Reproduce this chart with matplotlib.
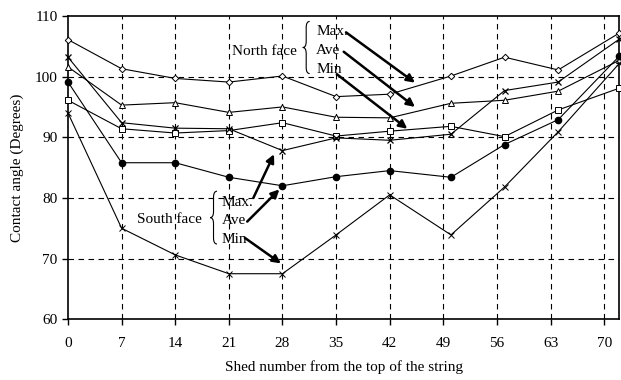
import matplotlib
matplotlib.use('Agg')
import matplotlib.pyplot as plt
from matplotlib.path import Path
from matplotlib.patches import PathPatch

plt.rcParams['font.family'] = ['Liberation Serif', 'DejaVu Serif']

# Shed positions (data points) and tick labels
shed = [0, 7, 14, 21, 28, 35, 42, 50, 57, 64, 72]
xticks = [0, 7, 14, 21, 28, 35, 42, 49, 56, 63, 70]
yticks = [60, 70, 80, 90, 100, 110]

# North face
north_max = [106.1, 101.3, 99.7, 99.1, 100.1, 96.7, 97.1, 100.1, 103.2, 101.1, 107.2]
north_ave = [101.6, 95.3, 95.7, 94.1, 95.0, 93.3, 93.2, 95.6, 96.1, 97.6, 102.7]
north_min = [96.1, 91.4, 90.7, 91.1, 92.4, 90.2, 91.0, 91.8, 90.1, 94.5, 98.1]

# South face
south_max = [103.2, 92.4, 91.5, 91.4, 87.8, 89.9, 89.5, 90.5, 97.7, 99.1, 106.2]
south_ave = [99.1, 85.8, 85.8, 83.4, 82.0, 83.5, 84.5, 83.4, 88.8, 92.9, 103.4]
south_min = [94.0, 75.0, 70.6, 67.5, 67.5, 73.9, 80.5, 73.9, 81.8, 90.9, 102.2]

fig = plt.figure(figsize=(6.21, 3.8), dpi=100)
ax = fig.add_axes([0.1095, 0.16, 0.888, 0.798])

line_kw = dict(color='black', lw=0.8, clip_on=False, zorder=3)
ax.plot(shed, north_max, marker='D', ms=3.3, mfc='white', mec='black', mew=0.7, **line_kw)
ax.plot(shed, north_ave, marker='^', ms=5, mfc='white', mec='black', mew=0.7, **line_kw)
ax.plot(shed, north_min, marker='s', ms=4.5, mfc='white', mec='black', mew=0.7, **line_kw)
ax.plot(shed, south_max, marker='x', ms=5, mec='black', mew=0.9, **line_kw)
ax.plot(shed, south_ave, marker='o', ms=4.5, mfc='black', mec='black', **line_kw)
ax.plot(shed, south_min, marker='x', ms=5, mec='black', mew=0.7, **line_kw)

ax.set_xlim(0, 72)
ax.set_ylim(60, 110)
ax.set_xticks(xticks)
ax.set_yticks(yticks)

# dashed grid
for xv in xticks[1:]:
    ax.axvline(xv, color='black', lw=0.8, ls=(0, (5, 4)), zorder=1)
for yv in yticks[1:-1]:
    ax.axhline(yv, color='black', lw=0.8, ls=(0, (5, 4)), zorder=1)

for s in ax.spines.values():
    s.set_linewidth(1.2)
ax.tick_params(direction='out', length=4, width=1, labelsize=11)
ax.tick_params(axis='x', pad=9)
ax.set_xlabel('Shed number from the top of the string', fontsize=11, labelpad=7)
ax.set_ylabel('Contact angle (Degrees)', fontsize=11, labelpad=8)


def brace(x, y0, y1, w, d):
    ym = (y0 + y1) / 2
    verts = [(x + w, y1), (x, y1), (x, y1 - d),
             (x, ym + d), (x, ym), (x - w, ym),
             (x, ym), (x, ym - d),
             (x, y0 + d), (x, y0), (x + w, y0)]
    codes = [Path.MOVETO, Path.CURVE3, Path.CURVE3,
             Path.LINETO, Path.CURVE3, Path.CURVE3,
             Path.CURVE3, Path.CURVE3,
             Path.LINETO, Path.CURVE3, Path.CURVE3]
    ax.add_patch(PathPatch(Path(verts, codes), fill=False, lw=0.8,
                           edgecolor='black', zorder=4, clip_on=False))


def arrow(start, end):
    ax.annotate('', xy=end, xytext=start,
                arrowprops=dict(arrowstyle='-|>', lw=1.8, color='black',
                                mutation_scale=12, shrinkA=0, shrinkB=0),
                zorder=5)


# North face annotation
ax.text(29.9, 104.1, 'North face', fontsize=11, ha='right', va='center')
brace(31.1, 100.5, 109.1, 0.45, 1.0)
ax.text(32.4, 107.4, 'Max.', fontsize=11, ha='left', va='center')
ax.text(32.4, 104.3, 'Ave', fontsize=11, ha='left', va='center')
ax.text(32.4, 101.1, 'Min', fontsize=11, ha='left', va='center')
arrow((36.3, 107.3), (45.3, 99.0))
arrow((36.0, 104.1), (45.3, 95.0))
arrow((35.1, 100.4), (44.3, 91.4))

# South face annotation
ax.text(17.5, 76.5, 'South face', fontsize=11, ha='right', va='center')
brace(19.0, 72.4, 81.1, 0.45, 1.0)
ax.text(20.1, 79.3, 'Max.', fontsize=11, ha='left', va='center')
ax.text(20.1, 76.3, 'Ave', fontsize=11, ha='left', va='center')
ax.text(20.1, 73.2, 'Min', fontsize=11, ha='left', va='center')
arrow((24.2, 80.0), (26.9, 87.2))
arrow((23.4, 76.1), (27.6, 81.4))
arrow((23.1, 73.4), (27.8, 69.2))

fig.savefig('out.png', dpi=100)
